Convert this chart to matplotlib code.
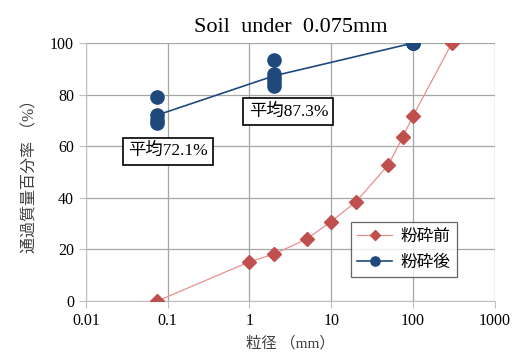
import matplotlib.pyplot as plt

plt.rcParams['font.family'] = ['Liberation Serif', 'Noto Sans CJK JP']

# 粉砕前 (before crushing)
size_before = [0.075, 1, 2, 5, 10, 20, 50, 75, 100, 300]
pass_before = [0, 15.2, 18.2, 24.0, 30.8, 38.4, 52.8, 63.6, 71.7, 100]

# 粉砕後 (after crushing) - individual samples
size_after_pts = [0.075, 0.075, 0.075, 0.075, 2, 2, 2, 2, 2, 100, 100, 100]
pass_after_pts = [79.2, 72.0, 70.2, 68.9, 93.6, 88.0, 86.5, 85.0, 83.5, 100, 100, 100]

# averages
size_after = [0.075, 2, 100]
pass_after = [72.1, 87.3, 100]
avg_labels = ['平均72.1%', '平均87.3%']

red = '#C0504D'
blue = '#1F497D'

fig = plt.figure(figsize=(5.17, 3.56), dpi=100)
ax = fig.add_axes([0.166, 0.1545, 0.791, 0.7245])

ax.plot(size_before, pass_before, color='#E8908E', lw=0.9, marker='D', ms=7,
        mfc=red, mec=red, label='粉砕前', zorder=3)
ax.plot(size_after, pass_after, color=blue, lw=1.2, zorder=3)
ax.plot(size_after_pts, pass_after_pts, ls='none', marker='o', ms=9.5,
        mfc=blue, mec=blue, zorder=4)
ax.plot([], [], color=blue, lw=1.2, marker='o', ms=9.5, mfc=blue, mec=blue,
        label='粉砕後')

ax.set_xscale('log')
ax.set_xlim(0.01, 1000)
ax.set_ylim(0, 100)
ax.set_xticks([0.01, 0.1, 1, 10, 100, 1000])
ax.set_xticklabels(['0.01', '0.1', '1', '10', '100', '1000'])
ax.set_yticks([0, 20, 40, 60, 80, 100])
ax.minorticks_off()
ax.grid(True, color='#a6a6a6', lw=0.9)
ax.set_axisbelow(True)
for s in ['top', 'right']:
    ax.spines[s].set_visible(False)
for s in ['left', 'bottom']:
    ax.spines[s].set_color('#bfbfbf')
ax.tick_params(colors='#bfbfbf', labelcolor='black', labelsize=11.5, length=5)

ax.set_xlabel('粒径 （mm）', fontsize=11, color='#404040', labelpad=5)
ax.set_ylabel('通過質量百分率 （%）', fontsize=11.5, color='#404040', labelpad=8)
ax.set_title('Soil  under  0.075mm', fontsize=16, pad=8)

box = dict(boxstyle='square,pad=0.3', fc='white', ec='black', lw=1.2)
ax.text(0.1, 58, avg_labels[0], fontsize=12.5, ha='center', va='center', bbox=box, zorder=5)
ax.text(3.0, 73.5, avg_labels[1], fontsize=12.5, ha='center', va='center', bbox=box, zorder=5)

leg = ax.legend(loc='upper left', bbox_to_anchor=(0.648, 0.306), fontsize=12,
                frameon=True, fancybox=False, edgecolor='#404040',
                handlelength=2.1, borderpad=0.4, labelspacing=0.6,
                markerscale=0.7, handletextpad=0.5, borderaxespad=0)
leg.get_frame().set_linewidth(0.9)

fig.savefig('out.png', dpi=100)
